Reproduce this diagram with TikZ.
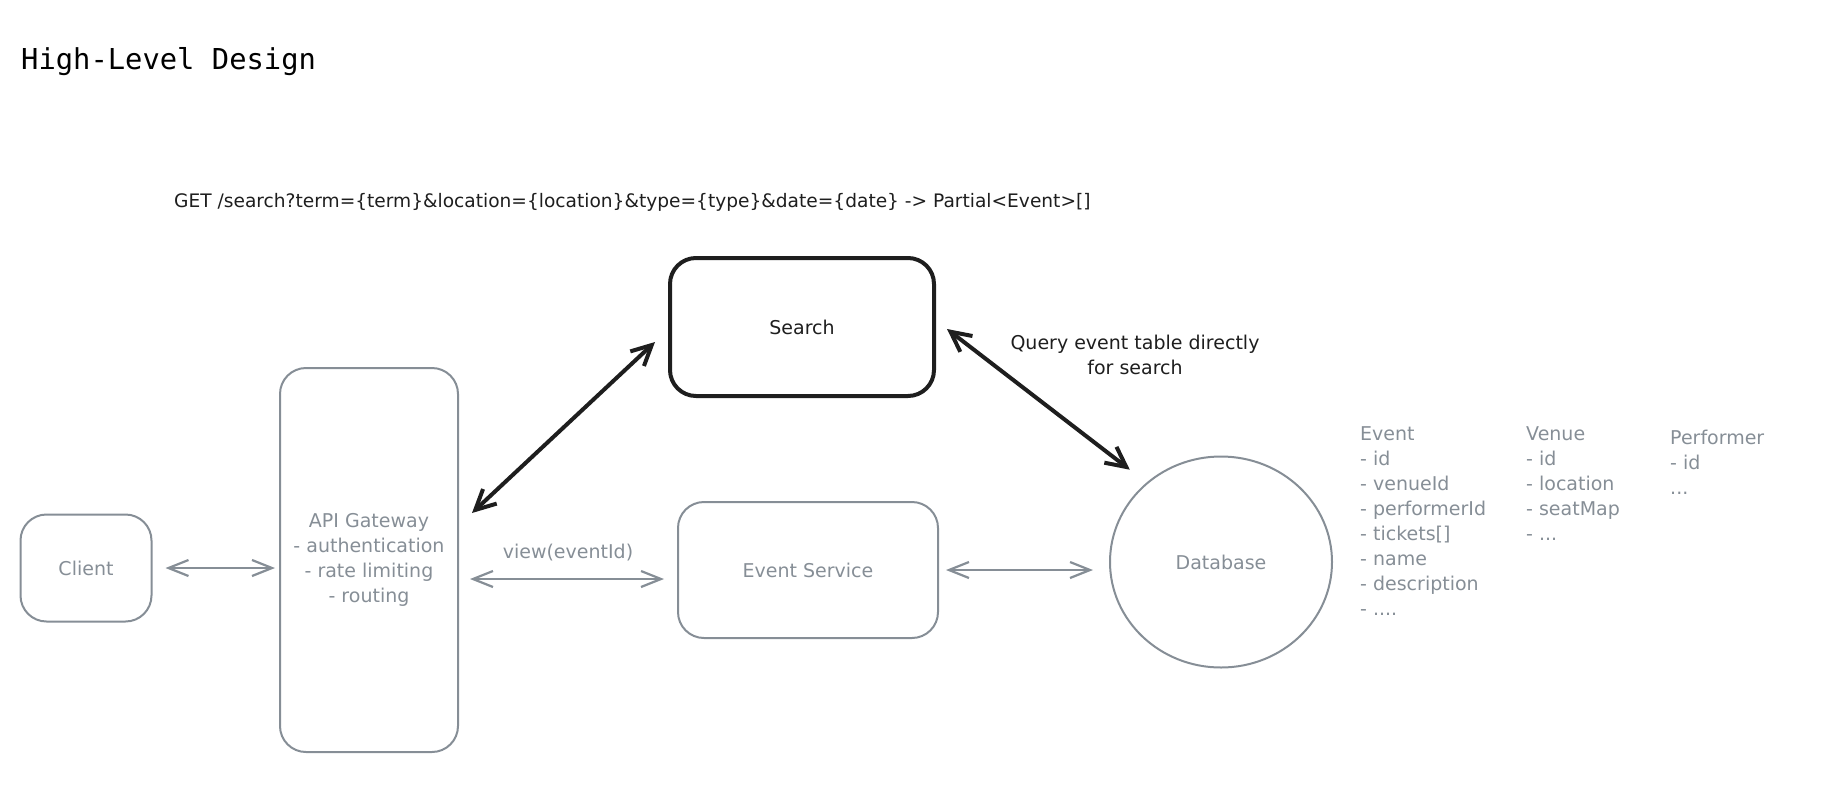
\documentclass[tikz,border=0pt]{standalone}
\usepackage{fontspec}
\usepackage{xcolor}
\usetikzlibrary{arrows.meta}
\usetikzlibrary{shapes.geometric}
\newfontfamily\hand{DejaVu Sans}
\newfontfamily\code{DejaVu Sans Mono}
\definecolor{stroke}{HTML}{868E96}
\definecolor{ink}{HTML}{1E1E1E}

\begin{document}
\begin{tikzpicture}[x=1pt,y=-1pt,
    every node/.style={font={\hand\fontsize{19}{25}\selectfont}},
    box/.style={draw=stroke,text=stroke,line width=2pt,rounded corners=26pt,inner sep=0pt},
    link/.style={draw=stroke,line width=2.2pt,line cap=round,line join=round,
        {Straight Barb[length=20pt,width=16pt]}-{Straight Barb[length=20pt,width=16pt]}},
    boldlink/.style={draw=ink,line width=4pt,line cap=round,line join=round,
        {Straight Barb[length=20pt,width=20pt]}-{Straight Barb[length=20pt,width=20pt]}},
    schema/.style={text=stroke,align=left,anchor=north west,inner sep=0pt}]
    \useasboundingbox (0,0) rectangle (1842,804);

    \node[anchor=base west,inner sep=0pt,font={\code\fontsize{28.8}{34}\selectfont}] (title) at (21,69) {High-Level Design};
    \node[anchor=base west,inner sep=0pt,text=ink,font={\hand\fontsize{18.6}{25}\selectfont}] (endpoint) at (174,207)
        {GET /search?term=\{term\}\&location=\{location\}\&type=\{type\}\&date=\{date\} -> Partial<Event>[]};

    \node[box,minimum width=131pt,minimum height=107pt] (client) at (86,568) {Client};
    \node[box,minimum width=178pt,minimum height=384pt,align=center] (api) at (369,560)
        {API Gateway\\- authentication\\- rate limiting\\- routing};
    \node[box,draw=ink,text=ink,line width=4pt,minimum width=264pt,minimum height=138pt] (search) at (802,327) {Search};
    \node[box,minimum width=260pt,minimum height=136pt] (event) at (808,570) {Event Service};
    \node[draw=stroke,text=stroke,line width=2pt,ellipse,minimum width=222pt,minimum height=211pt] (db) at (1221,562) {Database};

    \draw[link,shorten <=13pt,shorten >=4pt] (client.east) -- (client.east -| api.west);
    \draw[link,shorten <=11pt,shorten >=13pt] ([yshift=-19pt]api.east) -- ([yshift=-19pt]api.east -| event.west)
        node[midway,above=14pt,text=stroke] (view) {view(eventId)};
    \draw[link,shorten <=7pt,shorten >=16pt] (event.east) -- (event.east -| db.west);
    \draw[boldlink] ([shift={(-13,15)}]search.west) -- ([shift={(13,-47)}]api.east);
    \draw[boldlink] ([shift={(11,2)}]search.east) -- ([shift={(-12,-17)}]db.north west);

    \node[text=ink,align=center] (query) at (1135,355) {Query event table directly\\for search};

    \node[schema] (events) at (1360,426)
        {Event\\- id\\- venueId\\- performerId\\- tickets[]\\- name\\- description\\- ....};
    \node[schema] (venues) at (1526,426) {Venue\\- id\\- location\\- seatMap\\- ...};
    \node[schema] (performers) at (1670,430) {Performer\\- id\\...};
\end{tikzpicture}
\end{document}
